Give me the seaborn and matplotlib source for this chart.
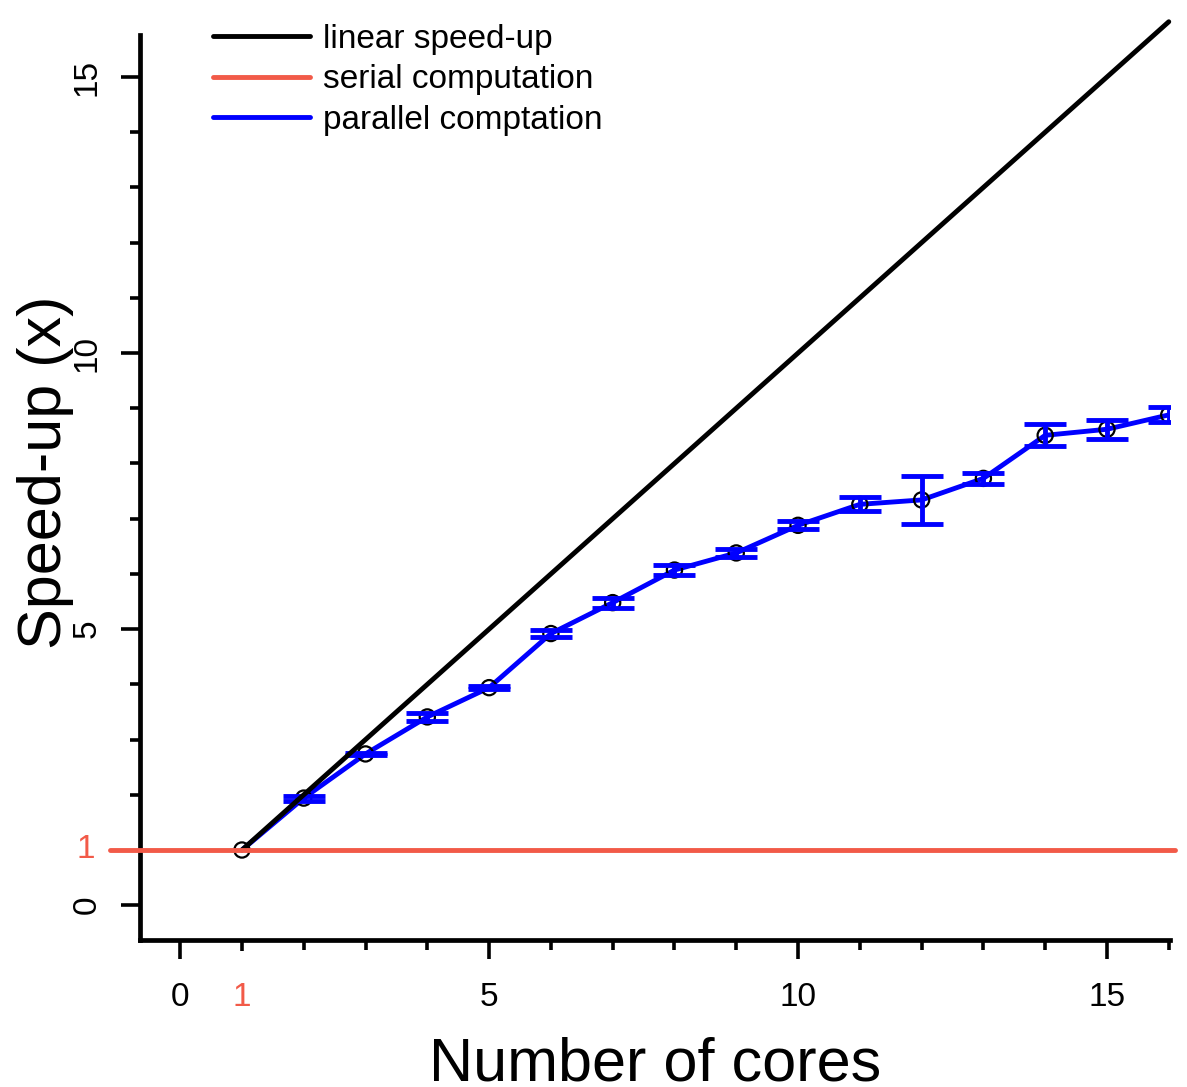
import numpy as np
import pandas as pd
import matplotlib
matplotlib.use("Agg")
import matplotlib.pyplot as plt
from matplotlib.lines import Line2D
import seaborn as sns

# Measured speed-up for each core count (mean and spread of repeated runs)
cores = [1, 2, 3, 4, 5, 6, 7, 8, 9, 10, 11, 12, 13, 14, 15, 16]
speedup = [1.00, 1.94, 2.74, 3.41, 3.94, 4.92, 5.48, 6.07, 6.38, 6.88,
           7.26, 7.34, 7.73, 8.51, 8.62, 8.88]
speedup_err = [0.0, 0.045, 0.02, 0.07, 0.03, 0.07, 0.09, 0.085, 0.067, 0.075,
               0.127, 0.44, 0.106, 0.2, 0.17, 0.136]
serial_speedup = 1.0

legend_labels = ["linear speed-up", "serial computation", "parallel comptation"]
x_ticks = [0, 1, 5, 10, 15]
y_ticks = [0, 5, 10, 15]

RED = "#F25A48"
BLUE = "#0000FF"
FONT = ["Liberation Sans", "DejaVu Sans"]
LW = 3.5

sns.set_theme(style="ticks")
plt.rcParams["font.family"] = FONT
plt.rcParams["text.color"] = "black"
plt.rcParams["axes.labelcolor"] = "black"
plt.rcParams["xtick.color"] = "black"
plt.rcParams["ytick.color"] = "black"

df = pd.DataFrame({"cores": cores, "speedup": speedup, "err": speedup_err})

fig = plt.figure(figsize=(11.87, 10.87), dpi=100)
ax = fig.add_axes([140 / 1187, 1 - 940 / 1087, 1030 / 1187, 905 / 1087])

# parallel measurements
sns.lineplot(data=df, x="cores", y="speedup", ax=ax, color=BLUE, lw=LW,
             zorder=3, legend=False)
sns.scatterplot(data=df, x="cores", y="speedup", ax=ax, s=120,
                facecolor="none", edgecolor="black", linewidth=1.6, zorder=4,
                legend=False)
bars = df[df["err"] > 0]
ax.errorbar(bars["cores"], bars["speedup"], yerr=bars["err"], fmt="none",
            ecolor=BLUE, elinewidth=LW, capsize=15, capthick=LW, zorder=5)

# ideal linear scaling
sns.lineplot(x=cores, y=cores, ax=ax, color="black", lw=LW, zorder=6,
             legend=False)
ax.lines[-1].set_clip_on(False)

# serial reference line
ax.axhline(serial_speedup, xmin=-0.029, xmax=1.005, color=RED, lw=LW,
           clip_on=False, zorder=7)

ax.set_xlim(-0.65, 16.02)
ax.set_ylim(-0.63, 15.76)

for side in ["top", "right"]:
    ax.spines[side].set_visible(False)
for side in ["left", "bottom"]:
    ax.spines[side].set_linewidth(3.4)
    ax.spines[side].set_color("black")

ax.set_xticks(x_ticks)
ax.set_xticklabels([str(t) for t in x_ticks])
ax.set_xticks(range(0, 17), minor=True)
ax.set_yticks(y_ticks)
ax.set_yticklabels([str(t) for t in y_ticks], rotation=90, va="center")
ax.set_yticks([t for t in range(0, 16) if t != 1], minor=True)

ax.tick_params(axis="both", which="major", length=14, width=2.6,
               color="black", labelsize=24, labelcolor="black")
ax.tick_params(axis="both", which="minor", length=7, width=2.6, color="black")
ax.tick_params(axis="x", which="major", pad=16)
ax.tick_params(axis="y", which="major", pad=13)

# highlight the single-core tick in the serial colour
xt = ax.xaxis.get_major_ticks()
xt[1].tick1line.set_color(RED)
xt[1].tick1line.set_markersize(8)
xt[1].label1.set_color(RED)

ax.text(-0.044, serial_speedup, "1", transform=ax.get_yaxis_transform(),
        color=RED, fontsize=24, ha="right", va="center", clip_on=False)

ax.set_xlabel("Number of cores", fontsize=44)
ax.xaxis.set_label_coords(0.5, -0.107)
ax.xaxis.label.set_va("top")
ax.set_ylabel("Speed-up (x)", fontsize=44)
ax.yaxis.set_label_coords(-0.064, 0.517)

handles = [Line2D([0], [0], color="black", lw=LW),
           Line2D([0], [0], color=RED, lw=LW),
           Line2D([0], [0], color=BLUE, lw=LW)]
fig.legend(handles, legend_labels, loc="upper left",
           bbox_to_anchor=(213 / 1187, 1 - 24 / 1087), frameon=False,
           fontsize=24, handlelength=2.9, handletextpad=0.4,
           labelspacing=0.28, borderpad=0, borderaxespad=0)

fig.savefig("out.png", dpi=100)
